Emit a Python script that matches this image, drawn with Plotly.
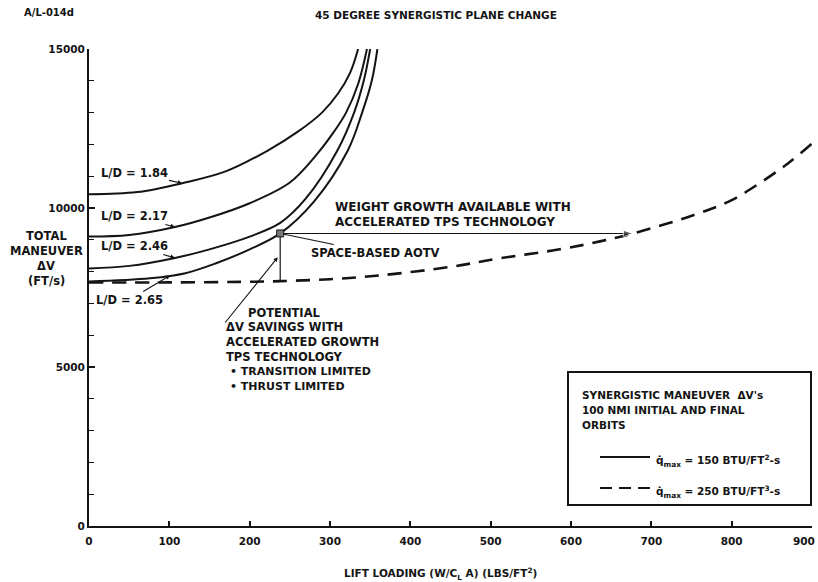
import numpy as np
import plotly.graph_objects as go

# Lift loading (LBS/FT^2) and total maneuver delta-V (FT/s) for each L/D, q_max = 150
lift_184 = [0, 60, 116, 170, 222, 260, 290, 310, 325, 335]
dv_184 = [10430, 10500, 10780, 11150, 11800, 12400, 13000, 13600, 14250, 15000]

lift_217 = [0, 50, 107, 150, 200, 250, 284, 305, 320, 335, 346]
dv_217 = [9100, 9150, 9400, 9700, 10150, 10800, 11700, 12400, 13000, 13900, 15000]

lift_246 = [0, 50, 107, 150, 200, 238, 270, 309, 330, 342, 350]
dv_246 = [8100, 8180, 8430, 8700, 9100, 9530, 10300, 11800, 13000, 14000, 15000]

lift_265 = [0, 76, 120, 159, 200, 238, 280, 322, 340, 352, 359]
dv_265 = [7690, 7790, 7950, 8270, 8700, 9200, 10200, 11800, 13000, 14000, 15000]

# q_max = 250 envelope
lift_250 = [0, 100, 200, 238, 300, 362, 450, 512, 586, 636, 677, 752, 800, 836, 870, 900]
dv_250 = [7660, 7660, 7680, 7700, 7760, 7880, 8150, 8420, 8700, 8950, 9200, 9770, 10250, 10800, 11400, 12030]

# Space-based AOTV design point
aotv_lift = 238
aotv_dv = 9200

curve_labels = ["L/D = 1.84", "L/D = 2.17", "L/D = 2.46", "L/D = 2.65"]
y_ticks = [0, 5000, 10000, 15000]
x_ticks = list(range(0, 901, 100))

INK = "#141414"
FONT = "DejaVu Sans"

W, H = 818, 582
L, R, T, B = 89, 6, 49, 56
X_MAX, Y_MAX = 900, 15000


def px(xp):
    return (xp - L) / (W - L - R)


def py(yp):
    return (H - B - yp) / (H - T - B)


def to_px(xd, yd):
    return (L + xd / X_MAX * (W - L - R), H - B - yd / Y_MAX * (H - T - B))


fig = go.Figure()

for lx, dv in [(lift_184, dv_184), (lift_217, dv_217), (lift_246, dv_246), (lift_265, dv_265)]:
    fig.add_trace(go.Scatter(x=lx, y=dv, mode="lines", line=dict(color=INK, width=2, shape="spline", smoothing=1.0),
                             showlegend=False, hoverinfo="skip"))

fig.add_trace(go.Scatter(x=lift_250, y=dv_250, mode="lines",
                         line=dict(color=INK, width=2.6, dash="14px,9px", shape="spline", smoothing=1.0),
                         showlegend=False, hoverinfo="skip"))

# Vertical drop from the AOTV point to the q_max = 250 envelope
dv_250_at_aotv = float(np.interp(aotv_lift, lift_250, dv_250))
fig.add_trace(go.Scatter(x=[aotv_lift, aotv_lift], y=[aotv_dv, dv_250_at_aotv], mode="lines",
                         line=dict(color=INK, width=1.2), showlegend=False, hoverinfo="skip"))

# Lift loading reachable on the q_max = 250 envelope at the same delta-V
growth_lift = float(np.interp(aotv_dv, dv_250, lift_250))
fig.add_trace(go.Scatter(x=[aotv_lift, growth_lift], y=[aotv_dv, aotv_dv], mode="lines+markers",
                         line=dict(color=INK, width=1.1),
                         marker=dict(symbol="arrow", size=[0, 10], angleref="previous", color=INK),
                         showlegend=False, hoverinfo="skip"))

fig.add_trace(go.Scatter(x=[aotv_lift], y=[aotv_dv], mode="markers",
                         marker=dict(symbol="square", size=7, color="#777", line=dict(color=INK, width=1)),
                         showlegend=False, hoverinfo="skip"))


def text(x, y, s, size=11.5, xanchor="left"):
    fig.add_annotation(x=px(x), y=py(y), xref="paper", yref="paper", text=s, showarrow=False,
                       xanchor=xanchor, yanchor="middle", align="left",
                       font=dict(family=FONT, size=size, color=INK))


def pointer(xd, yd, tx, ty, s="", head=2, standoff=0, size=11.5):
    # annotation whose text sits at pixel (tx, ty) with a leader to data point (xd, yd)
    hx, hy = to_px(xd, yd)
    fig.add_annotation(x=xd, y=yd, xref="x", yref="y", text=s, showarrow=True,
                       arrowhead=head, arrowsize=0.8, arrowwidth=1.1, arrowcolor=INK, standoff=standoff,
                       ax=tx - hx, ay=ty - hy, font=dict(family=FONT, size=size, color=INK),
                       xanchor="center", yanchor="middle")


# Curve labels with leaders
label_pts = [(116, dv_184, lift_184, 134, 173), (107, dv_217, lift_217, 134, 216),
             (107, dv_246, lift_246, 134, 246), (101, dv_265, lift_265, 129, 300)]
for (lx, dv, lxs, tx, ty), lab in zip(label_pts, curve_labels):
    yv = float(np.interp(lx, lxs, dv))
    pointer(lx, yv, tx, ty, "<b>" + lab + "</b>")

text(333, 207, "<b>WEIGHT GROWTH AVAILABLE WITH</b>", size=12)
text(333, 222, "<b>ACCELERATED TPS TECHNOLOGY</b>", size=12)

# Space-based AOTV label
pointer(aotv_lift, aotv_dv, 375, 253, "<b>SPACE-BASED AOTV</b>", head=0, standoff=4, size=11.5)

# Potential delta-V savings note
pointer(aotv_lift - 3, (aotv_dv + dv_250_at_aotv) / 2, 224, 324, "")
text(246, 313, "<b>POTENTIAL</b>")
text(224, 327, "<b>\u0394V SAVINGS WITH</b>")
text(224, 342, "<b>ACCELERATED GROWTH</b>")
text(224, 357, "<b>TPS TECHNOLOGY</b>")
text(228, 372, "<b>\u2022 TRANSITION LIMITED</b>", size=11)
text(228, 386, "<b>\u2022 THRUST LIMITED</b>", size=11)

# Headers
text(22, 12, "<b>A/L-014d</b>", size=10)
text(436, 15, "<b>45 DEGREE SYNERGISTIC PLANE CHANGE</b>", size=10.5, xanchor="center")

# Y-axis title
for yy, s in [(236, "TOTAL"), (251, "MANEUVER"), (266, "\u0394V"), (281, "(FT/s)")]:
    text(46, yy, "<b>" + s + "</b>", size=11.5, xanchor="center")

# X-axis title
text(440, 574, "<b>LIFT LOADING (W/C<sub>L</sub> A) (LBS/FT<sup>2</sup>)</b>", size=10.5, xanchor="center")

# Last x tick label, kept inside the page at the right edge
text(817, 541, "<b>%d</b>" % x_ticks[-1], size=10.5, xanchor="right")

# Key box
fig.add_shape(type="rect", xref="paper", yref="paper", x0=px(568), x1=px(811), y0=py(505), y1=py(372),
              line=dict(color=INK, width=2), fillcolor="rgba(0,0,0,0)")
text(580, 395, "<b>SYNERGISTIC MANEUVER  \u0394V's</b>", size=10.5)
text(580, 410, "<b>100 NMI INITIAL AND FINAL</b>", size=10.5)
text(580, 425, "<b>ORBITS</b>", size=10.5)
fig.add_shape(type="line", xref="paper", yref="paper", x0=px(600), x1=px(650), y0=py(457), y1=py(457),
              line=dict(color=INK, width=2))
fig.add_shape(type="line", xref="paper", yref="paper", x0=px(600), x1=px(650), y0=py(488), y1=py(488),
              line=dict(color=INK, width=2, dash="12px,7px"))
text(654, 461, "<b>q\u0307<sub>max</sub> = 150 BTU/FT<sup>2</sup>-s</b>", size=10.5)
text(654, 492, "<b>q\u0307<sub>max</sub> = 250 BTU/FT<sup>3</sup>-s</b>", size=10.5)

fig.update_layout(
    width=W, height=H, margin=dict(l=L, r=R, t=T, b=B),
    paper_bgcolor="white", plot_bgcolor="white",
    font=dict(family=FONT, color=INK),
    showlegend=False,
)
fig.update_xaxes(range=[0, X_MAX], showgrid=False, zeroline=False, showline=True, linecolor=INK, linewidth=2,
                 ticks="inside", ticklen=5, tickwidth=1.5, tickcolor=INK, ticklabelstandoff=4,
                 tickvals=x_ticks[:-1], ticktext=[str(v) for v in x_ticks[:-1]],
                 tickfont=dict(family=FONT, size=10.5, color=INK, weight="bold"))
fig.update_yaxes(range=[0, Y_MAX], showgrid=False, zeroline=False, showline=True, linecolor=INK, linewidth=2,
                 ticks="inside", ticklen=6, tickwidth=1.5, tickcolor=INK,
                 tickvals=y_ticks, ticktext=[str(v) for v in y_ticks],
                 minor=dict(dtick=1000, ticks="inside", ticklen=5, tickwidth=1.2, tickcolor=INK),
                 tickfont=dict(family=FONT, size=10.5, color=INK, weight="bold"))

fig.write_html("out.html")
